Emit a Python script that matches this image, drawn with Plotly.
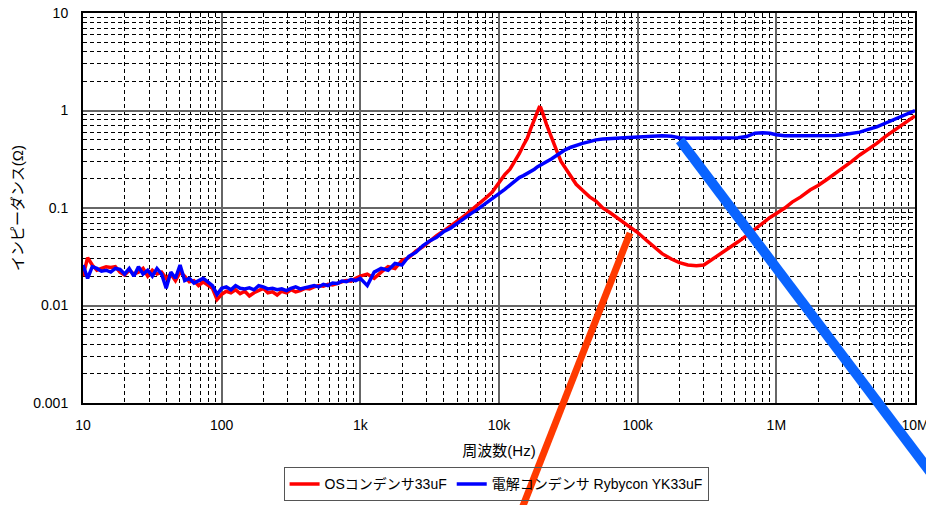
import plotly.graph_objects as go

# ---------------- data ----------------
freq = [
    10.00, 10.80, 11.66, 12.59, 13.59, 14.68, 15.85, 17.11, 18.48, 19.95,
    21.54, 23.26, 25.12, 27.12, 29.29, 31.62, 34.15, 36.87, 39.81, 42.99,
    46.42, 50.12, 54.12, 58.43, 63.10, 68.13, 73.56, 79.43, 85.77, 92.61,
    100, 108, 116.6, 125.9, 135.9, 146.8, 158.5, 171.1, 184.8, 199.5,
    215.4, 232.6, 251.2, 271.2, 292.9, 316.2, 341.5, 368.7, 398.1, 429.9,
    464.2, 501.2, 541.2, 584.3, 631, 681.3, 735.6, 794.3, 857.7, 926.1,
    1000, 1122, 1259, 1413, 1585, 1778, 1995, 2239, 2512, 2818,
    3162, 3548, 3981, 4467, 5012, 5623, 6310, 7079, 7943, 8913,
    10000, 11000, 12000, 13000, 14000, 15000, 16000, 17000, 18000, 19000,
    19500, 20000, 20500, 21000, 22000, 23000, 24000, 26000, 28000, 30000,
    33000, 36000, 40000, 45000, 50000, 56000, 63000, 70000, 80000, 90000,
    100e3, 115e3, 130e3, 150e3, 175e3, 200e3, 230e3, 265e3, 300e3, 350e3,
    400e3, 460e3, 530e3, 610e3, 700e3, 800e3, 900e3, 1.0e6, 1.15e6, 1.3e6,
    1.5e6, 1.75e6, 2.0e6, 2.3e6, 2.65e6, 3.0e6, 3.5e6, 4.0e6, 4.6e6, 5.3e6,
    6.1e6, 7.0e6, 8.0e6, 9.0e6, 10.0e6,
]

os_cap = [
    0.020, 0.031, 0.026, 0.023, 0.024, 0.025, 0.0245, 0.025, 0.022, 0.0205,
    0.023, 0.021, 0.022, 0.024, 0.020, 0.023, 0.021, 0.022, 0.019, 0.021,
    0.018, 0.022, 0.020, 0.0175, 0.018, 0.016, 0.0175, 0.016, 0.015, 0.0115,
    0.013, 0.014, 0.0135, 0.0145, 0.0132, 0.014, 0.0125, 0.0135, 0.0142, 0.015,
    0.0135, 0.0138, 0.0128, 0.014, 0.0135, 0.0145, 0.0138, 0.0142, 0.015, 0.0148,
    0.0155, 0.016, 0.0158, 0.0165, 0.0162, 0.017, 0.0175, 0.018, 0.0178, 0.019,
    0.020, 0.021, 0.019, 0.022, 0.025, 0.024, 0.029, 0.031, 0.036, 0.040,
    0.046, 0.052, 0.058, 0.065, 0.073, 0.083, 0.095, 0.108, 0.125, 0.145,
    0.185, 0.22, 0.25, 0.30, 0.36, 0.44, 0.52, 0.66, 0.80, 1.00,
    1.08, 1.07, 0.98, 0.88, 0.72, 0.62, 0.52, 0.39, 0.30, 0.26,
    0.21, 0.175, 0.152, 0.13, 0.118, 0.10, 0.090, 0.081, 0.070, 0.062,
    0.056, 0.047, 0.040, 0.034, 0.030, 0.0275, 0.026, 0.0255, 0.026, 0.030,
    0.034, 0.039, 0.045, 0.052, 0.061, 0.071, 0.080, 0.088, 0.10, 0.115,
    0.13, 0.153, 0.17, 0.195, 0.225, 0.255, 0.30, 0.35, 0.40, 0.46,
    0.54, 0.62, 0.72, 0.81, 0.88,
]

electrolytic = [
    0.026, 0.019, 0.025, 0.024, 0.0225, 0.023, 0.022, 0.024, 0.0235, 0.021,
    0.024, 0.020, 0.025, 0.021, 0.023, 0.020, 0.024, 0.021, 0.015, 0.022,
    0.019, 0.026, 0.018, 0.019, 0.017, 0.018, 0.019, 0.0175, 0.016, 0.013,
    0.015, 0.0155, 0.0145, 0.016, 0.015, 0.0148, 0.0152, 0.0145, 0.016, 0.0155,
    0.0148, 0.015, 0.0145, 0.0148, 0.0142, 0.015, 0.0155, 0.0148, 0.0152, 0.0158,
    0.016, 0.0155, 0.0165, 0.016, 0.017, 0.0168, 0.0178, 0.0175, 0.0185, 0.018,
    0.019, 0.016, 0.022, 0.024, 0.023, 0.027, 0.026, 0.032, 0.035, 0.041,
    0.046, 0.050, 0.057, 0.062, 0.070, 0.078, 0.088, 0.098, 0.110, 0.124,
    0.14, 0.155, 0.172, 0.19, 0.205, 0.215, 0.225, 0.24, 0.25, 0.265,
    0.27, 0.275, 0.28, 0.285, 0.30, 0.31, 0.32, 0.345, 0.375, 0.395,
    0.42, 0.44, 0.46, 0.48, 0.50, 0.51, 0.52, 0.52, 0.525, 0.53,
    0.53, 0.545, 0.55, 0.55, 0.545, 0.525, 0.52, 0.52, 0.52, 0.52,
    0.52, 0.52, 0.525, 0.54, 0.585, 0.59, 0.585, 0.565, 0.55, 0.55,
    0.55, 0.55, 0.55, 0.55, 0.555, 0.565, 0.58, 0.60, 0.64, 0.68,
    0.74, 0.80, 0.87, 0.93, 1.0,
]

x_tickvals = [10, 100, 1e3, 1e4, 1e5, 1e6, 1e7]
x_ticktext = ["10", "100", "1k", "10k", "100k", "1M", "10M"]
y_tickvals = [0.001, 0.01, 0.1, 1, 10]
y_ticktext = ["0.001", "0.01", "0.1", "1", "10"]

series_names = ["OSコンデンサ33uF", "電解コンデンサ Rybycon YK33uF"]

# ---------------- figure ----------------
FONT = "Liberation Sans, Arial, Noto Sans CJK JP, sans-serif"

fig = go.Figure()
fig.add_trace(go.Scatter(x=freq, y=os_cap, mode="lines", name=series_names[0],
                         line=dict(color="#FF0000", width=3.5)))
fig.add_trace(go.Scatter(x=freq, y=electrolytic, mode="lines", name=series_names[1],
                         line=dict(color="#0000FF", width=3.5)))

x_minor = [m * 10 ** e for e in range(1, 7) for m in range(2, 10)]
y_minor = [m * 10.0 ** e for e in range(-3, 1) for m in range(2, 10)]

axis_common = dict(
    type="log", showline=True, mirror=True, linecolor="black", linewidth=2,
    showgrid=True, gridcolor="#666666", gridwidth=1.5, ticks="", zeroline=False,
    automargin=False, ticklabeloverflow="allow",
    tickfont=dict(size=14, color="black", family=FONT),
)

fig.update_xaxes(
    **axis_common, range=[1, 7], tickmode="array", tickvals=x_tickvals, ticktext=x_ticktext,
    ticklabelstandoff=8,
    minor=dict(tickmode="array", tickvals=x_minor, showgrid=True, gridcolor="black",
               gridwidth=1, griddash="4px,3px", ticks=""),
    title=dict(text="周波数(Hz)", font=dict(size=15, color="black", family=FONT), standoff=14),
)
fig.update_yaxes(
    **axis_common, range=[-3, 1], tickmode="array", tickvals=y_tickvals, ticktext=y_ticktext,
    ticklabelstandoff=10,
    minor=dict(tickmode="array", tickvals=y_minor, showgrid=True, gridcolor="black",
               gridwidth=1, griddash="4px,3px", ticks=""),
    title=dict(text="インピーダンス(Ω)", font=dict(size=15, color="black", family=FONT), standoff=6),
)

# pointer lines (annotation strokes)
fig.add_shape(type="line", xref="paper", yref="paper", x0=0.6575, y0=0.436, x1=0.524, y1=-0.29,
              line=dict(color="#FF3A00", width=7), layer="above")
fig.add_shape(type="line", xref="paper", yref="paper", x0=0.7175, y0=0.674, x1=1.03, y1=-0.21,
              line=dict(color="#0A64FF", width=10), layer="above")

fig.update_layout(
    width=926, height=505,
    margin=dict(l=83, r=11, t=13, b=102, autoexpand=False),
    paper_bgcolor="white", plot_bgcolor="white",
    font=dict(family=FONT, size=14, color="black"),
    showlegend=True,
    legend=dict(orientation="h", x=0.4965, xanchor="center", y=-0.165, yanchor="top",
                bordercolor="#555555", borderwidth=1, bgcolor="rgba(0,0,0,0)",
                font=dict(size=14, color="black", family=FONT),
                itemwidth=30, tracegroupgap=0, itemclick=False),
)

fig.write_html("out.html")
